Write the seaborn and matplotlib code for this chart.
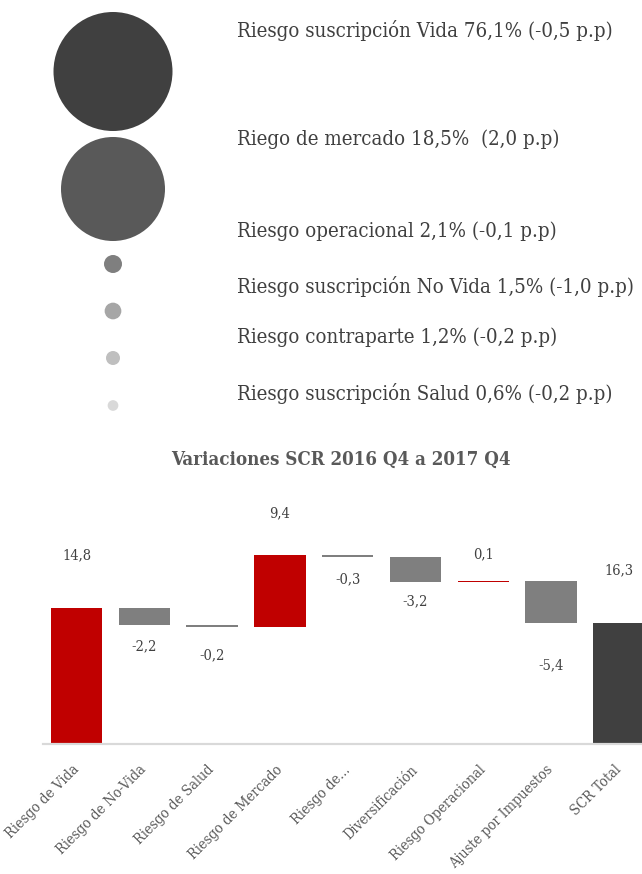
import numpy as np
import pandas as pd
import matplotlib
matplotlib.use("Agg")
import matplotlib.pyplot as plt
import seaborn as sns

# ---------------- data ----------------
risk_names = ["Riesgo suscripción Vida", "Riego de mercado", "Riesgo operacional",
              "Riesgo suscripción No Vida", "Riesgo contraparte", "Riesgo suscripción Salud"]
risk_share = [76.1, 18.5, 2.1, 1.5, 1.2, 0.6]
risk_change = [-0.5, 2.0, -0.1, -1.0, -0.2, -0.2]
risk_texts = ["Riesgo suscripción Vida 76,1% (-0,5 p.p)",
              "Riego de mercado 18,5%  (2,0 p.p)",
              "Riesgo operacional 2,1% (-0,1 p.p)",
              "Riesgo suscripción No Vida 1,5% (-1,0 p.p)",
              "Riesgo contraparte 1,2% (-0,2 p.p)",
              "Riesgo suscripción Salud 0,6% (-0,2 p.p)"]

wf_categories = ["Riesgo de Vida", "Riesgo de No-Vida", "Riesgo de Salud", "Riesgo de Mercado",
                 "Riesgo de...", "Diversificación", "Riesgo Operacional",
                 "Ajuste por Impuestos", "SCR Total"]
wf_steps = [14.8, -1.85, -0.2, 7.85, -0.3, -2.7, 0.1, -4.55]   # bar extents as drawn
wf_labels = ["14,8", "-2,2", "-0,2", "9,4", "-0,3", "-3,2", "0,1", "-5,4", "16,3"]

# ---------------- style / layout ----------------
W, H = 642, 874
DPI = 100
PT = 72 / DPI
bubble_colors = ["#404040", "#595959", "#7f7f7f", "#a6a6a6", "#bfbfbf", "#d9d9d9"]
bubble_diam_px = [119, 104, 18, 16.7, 14, 10.7]
bubble_x_px = 113
bubble_y_px = [71.5, 189, 264, 311, 358, 405.5]
text_x_px = 237
text_base_px = [37, 145, 237, 293, 343, 400]

RED, GRAY, DARK = "#c00000", "#7f7f7f", "#404040"
label_offset_px = [-53, 21, 28, -41, 22, 19, -27, 42, -53]

sns.set_style("white")
plt.rcParams["font.family"] = ["DejaVu Serif", "DejaVu Sans"]

fig = plt.figure(figsize=(W / DPI, H / DPI), dpi=DPI)

# ---------- top: bubbles ----------
axb = fig.add_axes([0, 0, 1, 1])
axb.set_xlim(0, W)
axb.set_ylim(H, 0)
axb.axis("off")
axb.patch.set_alpha(0)

dfb = pd.DataFrame({"riesgo": risk_names, "share": risk_share,
                    "x": bubble_x_px, "y": bubble_y_px})
size_map = {n: (d * PT) ** 2 for n, d in zip(risk_names, bubble_diam_px)}
color_map = dict(zip(risk_names, bubble_colors))
sns.scatterplot(data=dfb, x="x", y="y", hue="riesgo", palette=color_map,
                size="riesgo", sizes=size_map, legend=False, linewidth=0,
                ax=axb, zorder=3)
for t, yb in zip(risk_texts, text_base_px):
    axb.text(text_x_px, yb, t, ha="left", va="baseline", fontsize=14.7,
             fontstretch="condensed", color="#404040")
axb.set_xlabel("")
axb.set_ylabel("")

fig.text(341 / W, 1 - 460 / H, "Variaciones SCR 2016 Q4 a 2017 Q4",
         ha="center", va="center", fontsize=13.4, fontweight="bold",
         fontstretch="condensed", color="#595959")

# ---------- bottom: waterfall ----------
n = len(wf_categories)
slot = 67.8
left_px = 42.6
base_px = 744
px_per_unit = 136 / 14.8
top_px = 490
ax = fig.add_axes([left_px / W, 1 - base_px / H, n * slot / W, (base_px - top_px) / H])
ax.patch.set_alpha(0)

cum = np.cumsum(wf_steps)
total = cum[-1]
bottoms, heights = [], []
prev = 0.0
for s, c in zip(wf_steps, cum):
    bottoms.append(min(prev, c))
    heights.append(abs(s))
    prev = c
bottoms.append(0.0)
heights.append(total)
colors = [RED if s > 0 else GRAY for s in wf_steps] + [DARK]

dfw = pd.DataFrame({"cat": wf_categories, "height": heights})
sns.barplot(data=dfw, x="cat", y="height", hue="cat", palette=dict(zip(wf_categories, colors)),
            order=wf_categories, hue_order=wf_categories, legend=False,
            width=0.76, linewidth=0, saturation=1, ax=ax)
for p, b in zip(ax.patches, bottoms):
    p.set_y(b)

ax.set_xlim(-0.5, n - 0.5)
ax.set_ylim(0, (base_px - top_px) / px_per_unit)
ax.set_xlabel("")
ax.set_ylabel("")
ax.set_yticks([])
for side in ["left", "right", "top"]:
    ax.spines[side].set_visible(False)
ax.spines["bottom"].set_color("#d9d9d9")
ax.spines["bottom"].set_linewidth(2.2 * PT)
ax.tick_params(axis="x", length=0, pad=17)
ax.set_xticks(range(n))
ax.set_xticklabels(wf_categories, rotation=45, ha="right", va="center",
                   rotation_mode="anchor",
                   fontsize=10.4, color="#595959", fontstretch="condensed")

for i, (lab, off) in enumerate(zip(wf_labels, label_offset_px)):
    yref = bottoms[i] + heights[i] if off < 0 else bottoms[i]
    ax.annotate(lab, (i, yref), xytext=(0, -off * PT), textcoords="offset points",
                ha="center", va="center", fontsize=10.5, color="#404040",
                fontstretch="condensed")

fig.savefig("out.png", dpi=DPI)
